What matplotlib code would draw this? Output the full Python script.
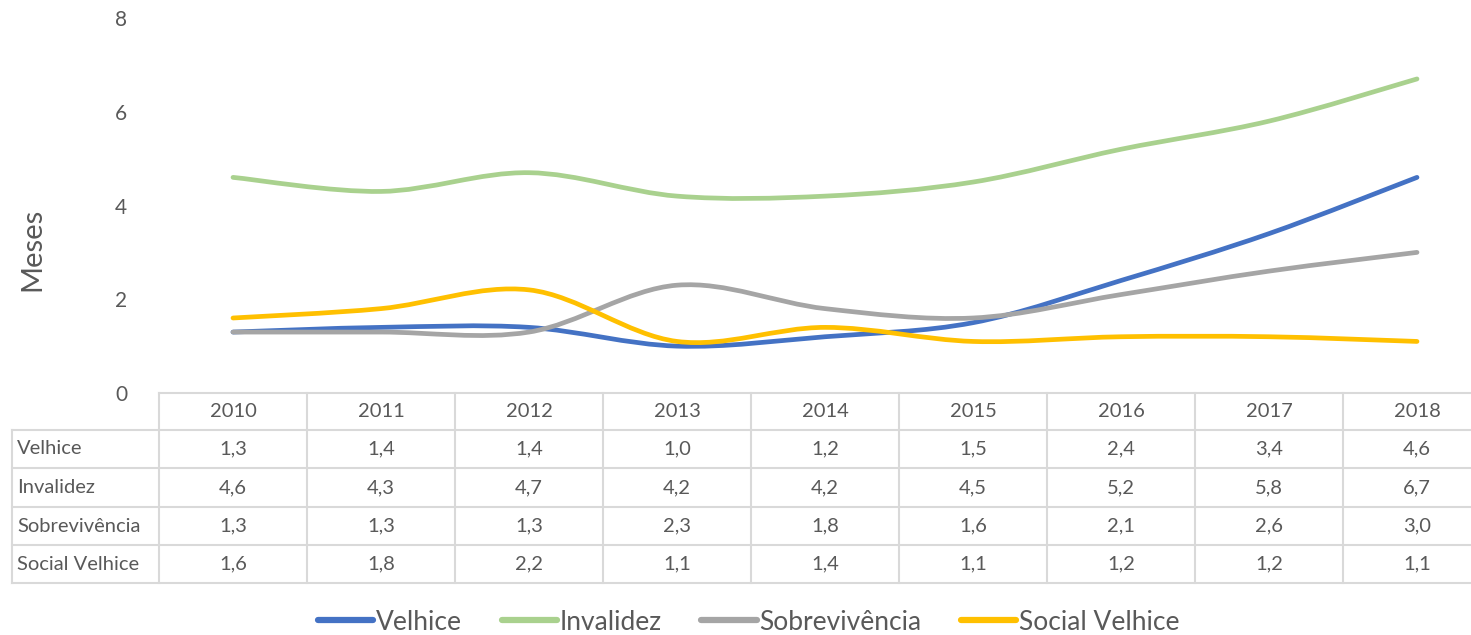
import matplotlib
matplotlib.use("Agg")
import matplotlib.pyplot as plt
from matplotlib.path import Path
from matplotlib.patches import PathPatch
from matplotlib.lines import Line2D
import numpy as np

years = ["2010", "2011", "2012", "2013", "2014", "2015", "2016", "2017", "2018"]
series_names = ["Velhice", "Invalidez", "Sobrevivência", "Social Velhice"]
velhice = [1.3, 1.4, 1.4, 1.0, 1.2, 1.5, 2.4, 3.4, 4.6]
invalidez = [4.6, 4.3, 4.7, 4.2, 4.2, 4.5, 5.2, 5.8, 6.7]
sobrevivencia = [1.3, 1.3, 1.3, 2.3, 1.8, 1.6, 2.1, 2.6, 3.0]
social_velhice = [1.6, 1.8, 2.2, 1.1, 1.4, 1.1, 1.2, 1.2, 1.1]
y_ticks = [0, 2, 4, 6, 8]
y_label = "Meses"

values = [velhice, invalidez, sobrevivencia, social_velhice]
colors = ["#4472C4", "#A9D18E", "#A5A5A5", "#FFC000"]
text_color = "#595959"
grid_color = "#D9D9D9"
FONT = "Lato"
plt.rcParams["font.family"] = [FONT, "DejaVu Sans"]

W, H = 1471, 635
fig = plt.figure(figsize=(W / 100, H / 100), dpi=100)
# the plot area extends past the right edge of the image (cropped like the reference)
px_l, px_r, px_t, px_b = 159, 1491, 18, 393
ax = fig.add_axes([px_l / W, 1 - px_b / H, (px_r - px_l) / W, (px_b - px_t) / H])
ax.set_xlim(-0.5, len(years) - 0.5)
ax.set_ylim(0, 8)


def smooth_path(xs, ys):
    pts = np.column_stack([xs, ys]).astype(float)
    n = len(pts)
    verts = [pts[0]]
    codes = [Path.MOVETO]
    for i in range(n - 1):
        p0 = pts[i - 1] if i > 0 else pts[i]
        p1 = pts[i]
        p2 = pts[i + 1]
        p3 = pts[i + 2] if i + 2 < n else pts[i + 1]
        c1 = p1 + (p2 - p0) / 6.0
        c2 = p2 - (p3 - p1) / 6.0
        verts += [c1, c2, p2]
        codes += [Path.CURVE4] * 3
    return Path(verts, codes)


xs = np.arange(len(years))
for vals, col in zip(values, colors):
    patch = PathPatch(smooth_path(xs, vals), fill=False, edgecolor=col,
                      linewidth=3.4, capstyle="round", joinstyle="round",
                      transform=ax.transData, zorder=3)
    ax.add_patch(patch)

for s in ax.spines.values():
    s.set_visible(False)
ax.set_xticks([])
ax.set_yticks(y_ticks)
ax.set_yticklabels([str(t) for t in y_ticks], fontsize=15, color=text_color)
ax.tick_params(axis="y", length=0, pad=23)

fig.text(32 / W, 1 - 249 / H, y_label, rotation=90, fontsize=21,
         color=text_color, ha="center", va="center")

# ---- data table (drawn in pixel-based figure coords) ----
tab_left, tab_right = 12, px_r
row_edges = [393, 430, 468, 507, 545, 583]  # header + 4 rows
col_w = (px_r - px_l) / len(years)


def fx(x):
    return x / W


def fy(y):
    return 1 - y / H


lw = 1.5
for i, y in enumerate(row_edges):
    x0 = px_l if i == 0 else tab_left
    fig.add_artist(Line2D([fx(x0), fx(tab_right)], [fy(y), fy(y)],
                          color=grid_color, lw=lw, transform=fig.transFigure))
for j in range(len(years) + 1):
    x = px_l + j * col_w
    fig.add_artist(Line2D([fx(x), fx(x)], [fy(row_edges[0]), fy(row_edges[-1])],
                          color=grid_color, lw=lw, transform=fig.transFigure))
fig.add_artist(Line2D([fx(tab_left), fx(tab_left)], [fy(row_edges[1]), fy(row_edges[-1])],
                      color=grid_color, lw=lw, transform=fig.transFigure))

tfs = 14.5
for j, yr in enumerate(years):
    cx = px_l + (j + 0.5) * col_w
    cy = (row_edges[0] + row_edges[1]) / 2
    fig.text(fx(cx), fy(cy), yr, ha="center", va="center", fontsize=tfs, color=text_color)
for i, (name, vals) in enumerate(zip(series_names, values)):
    cy = (row_edges[i + 1] + row_edges[i + 2]) / 2
    fig.text(fx(tab_left + 5), fy(cy), name, ha="left", va="center", fontsize=tfs,
             color=text_color)
    for j, v in enumerate(vals):
        cx = px_l + (j + 0.5) * col_w
        fig.text(fx(cx), fy(cy), f"{v:.1f}".replace(".", ","), ha="center",
                 va="center", fontsize=tfs, color=text_color)

handles = [Line2D([0], [0], color=c, lw=4.5, solid_capstyle="round") for c in colors]
fig.legend(handles, series_names, loc="center", bbox_to_anchor=(0.509, 1 - 622 / H),
           ncol=4, frameon=False, fontsize=19, labelcolor=text_color,
           handlelength=2.1, handletextpad=0.1, columnspacing=1.5)

fig.savefig("out.png", dpi=100)
